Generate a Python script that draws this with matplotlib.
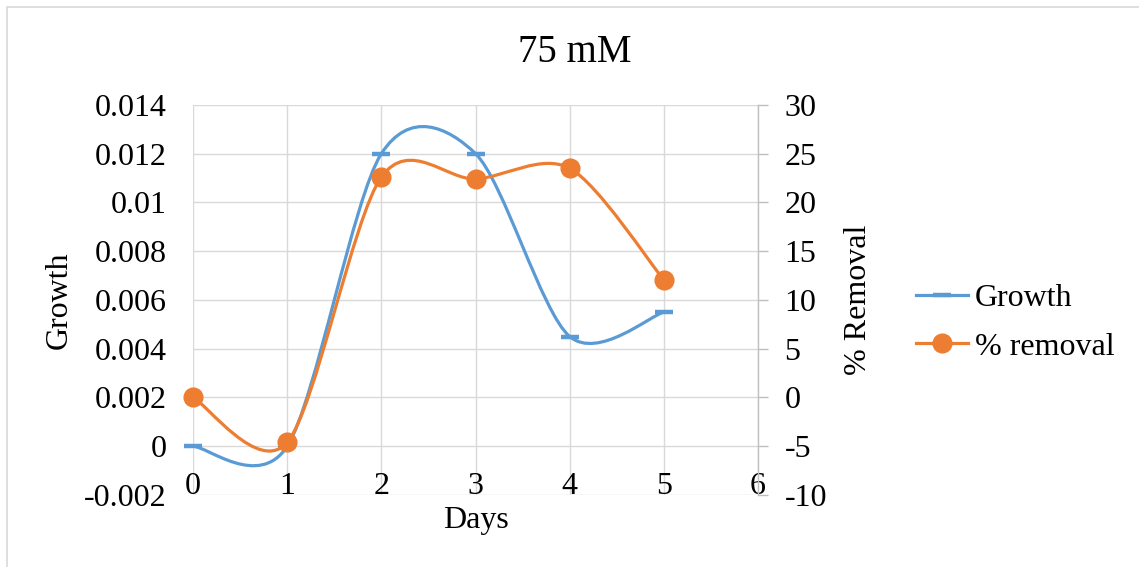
import matplotlib
matplotlib.use("Agg")
import matplotlib.pyplot as plt
from matplotlib.path import Path
from matplotlib.patches import PathPatch, Rectangle
from matplotlib.lines import Line2D
import numpy as np

plt.rcParams["font.family"] = ["Liberation Serif", "DejaVu Serif"]
plt.rcParams["axes.unicode_minus"] = False

# Data
days = [0, 1, 2, 3, 4, 5]
growth = [0.0, 0.0, 0.012, 0.012, 0.0045, 0.0055]
removal = [0.0, -4.6, 22.6, 22.4, 23.5, 12.05]

growth_ticks = [-0.002, 0, 0.002, 0.004, 0.006, 0.008, 0.01, 0.012, 0.014]
growth_ticklabels = ["-0.002", "0", "0.002", "0.004", "0.006", "0.008", "0.01", "0.012", "0.014"]
removal_ticks = [-10, -5, 0, 5, 10, 15, 20, 25, 30]
day_ticks = [0, 1, 2, 3, 4, 5, 6]

BLUE = "#5B9BD5"
ORANGE = "#ED7D31"
GRID = "#D9D9D9"
FS = 23


def smooth_path(x, y, k=0.15):
    """Cubic Bezier path through the points (spreadsheet-style smoothed line)."""
    p = np.column_stack([x, y]).astype(float)
    n = len(p)
    verts = [p[0]]
    codes = [Path.MOVETO]
    for i in range(n - 1):
        prev = p[i - 1] if i > 0 else p[i]
        nxt = p[i + 2] if i + 2 < n else p[i + 1]
        c1 = p[i] + k * (p[i + 1] - prev)
        c2 = p[i + 1] - k * (nxt - p[i])
        verts += [c1, c2, p[i + 1]]
        codes += [Path.CURVE4] * 3
    return Path(verts, codes)


fig = plt.figure(figsize=(11.39, 5.67), dpi=100)
fig.patches.append(Rectangle((0.006, -0.05), 1.1, 1.038, transform=fig.transFigure,
                             fill=False, edgecolor="#D9D9D9", linewidth=1.2))

ax = fig.add_axes([0.1695, 0.127, 0.496, 0.688])
ax2 = ax.twinx()

ax.set_xlim(0, 6)
ax.set_ylim(-0.002, 0.014)
ax2.set_ylim(-10, 30)

ax.set_xticks(day_ticks)
ax.set_yticks(growth_ticks)
ax.set_yticklabels(growth_ticklabels)
ax2.set_yticks(removal_ticks)

ax.grid(True, color=GRID, linewidth=1.0)
ax.set_axisbelow(True)
for s in ["top", "left", "right"]:
    ax.spines[s].set_visible(False)
ax.spines["bottom"].set_position(("data", 0))
ax.spines["bottom"].set_visible(False)
for s in ["top", "left", "bottom"]:
    ax2.spines[s].set_visible(False)
ax2.spines["right"].set_color("#BFBFBF")
ax2.spines["right"].set_linewidth(1.0)

ax.tick_params(axis="x", length=0, pad=18.5, labelsize=FS)
ax.tick_params(axis="y", length=0, pad=19, labelsize=FS)
ax2.tick_params(axis="y", length=7, width=1, color="#BFBFBF", pad=12, labelsize=FS, direction="out")

# Smoothed lines
ax.add_patch(PathPatch(smooth_path(days, growth), fill=False, edgecolor=BLUE,
                       linewidth=2.3, capstyle="round", zorder=3))
ax.plot(days, growth, linestyle="none", marker="_", markersize=13,
        markeredgewidth=3.2, color=BLUE, zorder=4, clip_on=False)

ax2.add_patch(PathPatch(smooth_path(days, removal), fill=False, edgecolor=ORANGE,
                        linewidth=2.3, capstyle="round", zorder=3))
ax2.plot(days, removal, linestyle="none", marker="o", markersize=13.5,
         color=ORANGE, zorder=4, clip_on=False)

ax.set_xlabel("Days", fontsize=FS)
ax.xaxis.set_label_coords(0.5, -0.028)
ax.set_ylabel("Growth", fontsize=FS)
ax.yaxis.set_label_coords(-0.212, 0.5)
ax2.set_ylabel("% Removal", fontsize=FS)
ax2.yaxis.set_label_coords(1.152, 0.5)

fig.text(0.5045, 0.908, "75 mM", ha="center", va="center", fontsize=28)

handles = [
    Line2D([], [], color=BLUE, linewidth=2.3, marker="_", markersize=13, markeredgewidth=3.2),
    Line2D([], [], color=ORANGE, linewidth=2.3, marker="o", markersize=13.5),
]
fig.legend(handles, ["Growth", "% removal"], loc="center left",
           bbox_to_anchor=(0.804, 0.431), frameon=False, fontsize=FS,
           handlelength=1.63, handletextpad=0.22, labelspacing=0.6, borderaxespad=0,
           borderpad=0)

fig.savefig("out.png", dpi=100)
